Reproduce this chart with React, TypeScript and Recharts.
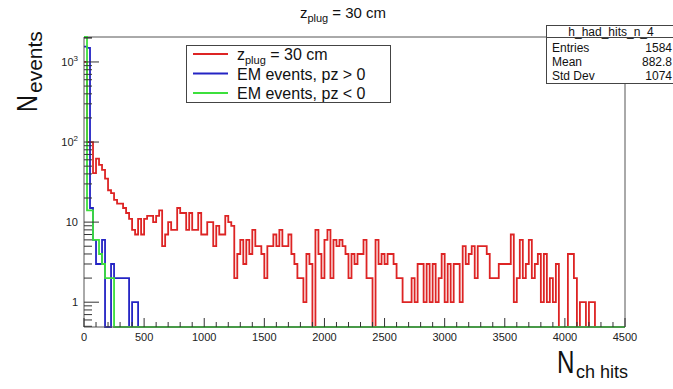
import { Line, LineChart, ReferenceLine, XAxis, YAxis } from "recharts"

const FONT = "'Liberation Sans', Arial, Helvetica, sans-serif"

// histogram binning: 180 bins of 25 hits over [0, 4500]
const BIN_WIDTH = 25
const X_MAX = 4500
const Y_MIN = 0.49
const Y_MAX = 2050

// hadronic hits, z_plug = 30 cm
const plug30Counts = [
  1000, 100, 100, 41, 62, 52, 45, 35, 25, 23,
  19, 17, 17, 15, 13, 11, 8, 7, 11, 7,
  11, 12, 12, 10, 12, 14, 5, 7, 10, 8,
  8, 15, 13, 13, 8, 13, 8, 8, 13, 7,
  7, 10, 10, 5, 9, 7, 7, 12, 10, 9,
  2, 4, 6, 3, 6, 4, 8, 5, 5, 4,
  2, 5, 5, 7, 5, 8, 5, 5, 7, 4,
  3, 2, 2, 1, 4, 3, 0, 8, 4, 2,
  6, 8, 2, 6, 5, 6, 5, 4, 2, 4,
  3, 4, 4, 6, 2, 2, 0, 6, 3, 4,
  3, 4, 4, 3, 2, 2, 1, 1, 1, 2,
  1, 3, 3, 1, 3, 1, 3, 1, 2, 4,
  1, 3, 1, 3, 3, 1, 5, 3, 4, 5,
  2, 5, 5, 5, 4, 2, 2, 2, 3, 3,
  3, 3, 7, 1, 2, 6, 2, 3, 6, 2,
  3, 4, 1, 4, 1, 2, 1, 3, 0, 0,
  0, 4, 4, 2, 0, 1, 1, 0, 1, 1,
]

// EM events, pz > 0
const emForwardCounts = [1550, 1500, 15, 6, 3, 3, 6, 0, 0, 3, 2, 2, 2, 2, 2, 0, 1, 1]

// EM events, pz < 0
const emBackwardCounts = [2400, 14, 14, 6, 6, 4, 3, 2, 2, 2]

const xMajorTicks = [0, 500, 1000, 1500, 2000, 2500, 3000, 3500, 4000, 4500]
const yMajorTicks = [1, 10, 100, 1000]

const series = [
  { key: "plug30", counts: plug30Counts, color: "#dd2424", label: "plug" },
  { key: "emFwd", counts: emForwardCounts, color: "#2424c4", label: "EM events, pz > 0" },
  { key: "emBwd", counts: emBackwardCounts, color: "#3ce03c", label: "EM events, pz < 0" },
]

// minor ticks: every 100 hits on x, 2..9 per decade on y
const xTicks: number[] = []
for (let v = 0; v <= X_MAX; v += 100) xTicks.push(v)
const yTicks: number[] = [0.5, 0.6, 0.7, 0.8, 0.9]
yMajorTicks.forEach((m) => {
  for (let k = 1; k <= 9; k++) if (m * k <= Y_MAX) yTicks.push(m * k)
})
yTicks.push(2000)

// empty bins sit on the lower frame edge like ROOT draws them
const toLog = (v: number) => (v > 0 ? Math.min(v, Y_MAX) : Y_MIN)

const nBins = X_MAX / BIN_WIDTH
const data = Array.from({ length: nBins + 1 }, (_, i) => {
  const bin = Math.min(i, nBins - 1)
  const row: Record<string, number> = { x: i * BIN_WIDTH }
  series.forEach((s) => {
    row[s.key] = toLog(s.counts[bin] ?? 0)
  })
  return row
})

function XTick(props: any) {
  const { x, y, payload } = props
  const major = xMajorTicks.includes(payload.value)
  return (
    <g>
      <line x1={x} y1={y} x2={x} y2={y - (major ? 9 : 5)} stroke="#333" />
      {major && (
        <text x={x} y={y + 14} textAnchor="middle" fontSize={11} fontFamily={FONT} fill="#222">
          {payload.value}
        </text>
      )}
    </g>
  )
}

function YTick(props: any) {
  const { x, y, payload } = props
  const v = payload.value
  const exp = Math.round(Math.log10(v))
  const major = yMajorTicks.includes(v)
  return (
    <g>
      <line x1={x} y1={y} x2={x + (major ? 15 : 8)} y2={y} stroke="#333" />
      {major && (
        <text x={x - 6} y={y + 4} textAnchor="end" fontSize={11} fontFamily={FONT} fill="#222">
          {exp < 2 ? (
            String(v)
          ) : (
            <>
              10
              <tspan dy={-5} fontSize={8}>
                {exp}
              </tspan>
            </>
          )}
        </text>
      )}
    </g>
  )
}

function Overlay() {
  const legendRows = [54, 73.5, 93]
  return (
    <svg
      width={673}
      height={389}
      style={{ position: "absolute", left: 0, top: 0, pointerEvents: "none", whiteSpace: "pre" }}
      fontFamily={FONT}
      fill="#111"
    >
      {/* title */}
      <text x={343} y={18} textAnchor="middle" fontSize={15}>
        z<tspan fontSize={11} dy={4}>plug</tspan>
        <tspan dy={-4}> = 30 cm</tspan>
      </text>

      {/* legend */}
      <rect x={186.5} y={45.5} width={204} height={57} fill="#fff" stroke="#444" />
      {series.map((s, i) => (
        <g key={s.key}>
          <line x1={193} y1={legendRows[i]} x2={228} y2={legendRows[i]} stroke={s.color} strokeWidth={2} />
          {i === 0 ? (
            <text x={237} y={legendRows[i] + 6} fontSize={16}>
              z<tspan fontSize={11} dy={4}>plug</tspan>
              <tspan dy={-4}> = 30 cm</tspan>
            </text>
          ) : (
            <text x={237} y={legendRows[i] + 6} fontSize={16}>
              {s.label}
            </text>
          )}
        </g>
      ))}

      {/* stats box */}
      <rect x={546.5} y={25.5} width={160} height={58} fill="#fff" stroke="#444" />
      <line x1={546.5} y1={37.5} x2={673} y2={37.5} stroke="#444" />
      <text x={611} y={35.5} textAnchor="middle" fontSize={12}>h_had_hits_n_4</text>
      {[
        ["Entries", "1584"],
        ["Mean", "882.8"],
        ["Std Dev", "1074"],
      ].map(([k, v], i) => (
        <g key={k}>
          <text x={552} y={51.6 + i * 14.4} fontSize={12}>{k}</text>
          <text x={672} y={51.6 + i * 14.4} fontSize={12} textAnchor="end">{v}</text>
        </g>
      ))}

      {/* axis titles */}
      <text transform="translate(37,112) rotate(-90) scale(0.78,1)" fontSize={30}>N</text>
      <text transform="translate(42,93) rotate(-90)" fontSize={21}>events</text>
      <text transform="translate(557,373) scale(0.78,1)" fontSize={31}>N</text>
      <text x={576} y={378} fontSize={18}>ch hits</text>
    </svg>
  )
}

export default function App() {
  return (
    <div style={{ position: "absolute", left: 0, top: 0, width: 673, height: 389, background: "#fff" }}>
      <LineChart width={673} height={389} data={data} margin={{ top: 37, right: 48, left: 0, bottom: 0 }}>
        <XAxis
          dataKey="x"
          type="number"
          domain={[0, X_MAX]}
          ticks={xTicks}
          interval={0}
          tick={<XTick />}
          tickLine={false}
          tickSize={0}
          tickMargin={0}
          height={62}
          axisLine={{ stroke: "#555" }}
        />
        <YAxis
          type="number"
          scale="log"
          domain={[Y_MIN, Y_MAX]}
          ticks={yTicks}
          interval={0}
          tick={<YTick />}
          tickLine={false}
          tickSize={0}
          tickMargin={0}
          width={84}
          axisLine={{ stroke: "#555" }}
        />
        <ReferenceLine y={Y_MAX} stroke="#555" />
        <ReferenceLine x={X_MAX} stroke="#555" />
        {series.map((s) => (
          <Line
            key={s.key}
            type="stepAfter"
            dataKey={s.key}
            stroke={s.color}
            strokeWidth={1.8}
            dot={false}
            activeDot={false}
            isAnimationActive={false}
          />
        ))}
      </LineChart>
      <Overlay />
    </div>
  )
}
